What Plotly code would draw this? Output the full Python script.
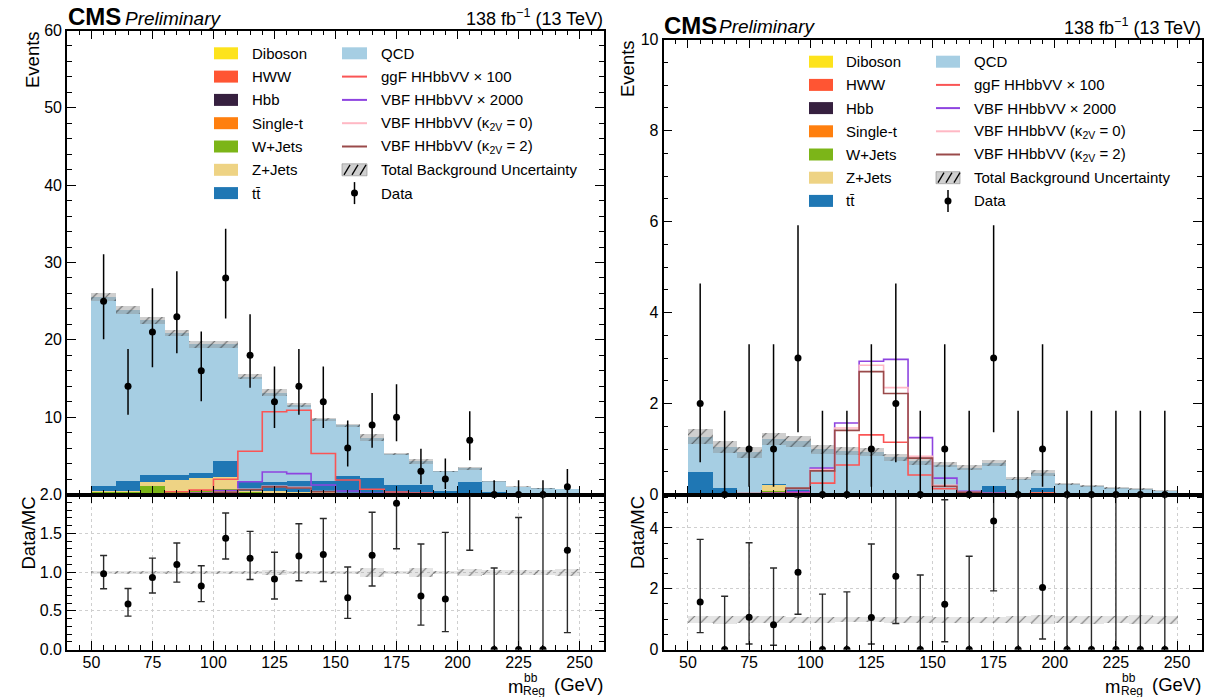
import plotly.graph_objects as go

W, H = 1216, 697
FONT = "Liberation Sans"

# ---------------- data ----------------
edges = [50, 60, 70, 80, 90, 100, 110, 120, 130, 140, 150, 160, 170, 180, 190, 200, 210, 220, 230, 240, 250]
centers = [55, 65, 75, 85, 95, 105, 115, 125, 135, 145, 155, 165, 175, 185, 195, 205, 215, 225, 235, 245]

process_names = ["Diboson", "HWW", "Hbb", "Single-t", "W+Jets", "Z+Jets", "tt\u0304", "QCD"]
process_colors = ["#fde31c", "#ff5533", "#36203f", "#ff7f0e", "#7cb518", "#eed384", "#1f77b4", "#a6cee3"]

signal_names = ["ggF HHbbVV \u00d7 100", "VBF HHbbVV \u00d7 2000",
                "VBF HHbbVV (\u03ba<sub>2V</sub> = 0)", "VBF HHbbVV (\u03ba<sub>2V</sub> = 2)"]
signal_colors = ["#fa5555", "#8e44e0", "#ffb8c4", "#9a4a4a"]

# Left panel
diboson_L = [0.03, 0.03, 0.04, 0.04, 0.04, 0.05, 0.06, 0.05, 0.04, 0.03, 0.02, 0.02, 0.01, 0.01, 0.01, 0.01, 0.0, 0.0, 0.0, 0.0]
hww_L = [0.0, 0.0, 0.01, 0.01, 0.02, 0.03, 0.04, 0.04, 0.03, 0.02, 0.01, 0.01, 0.01, 0.0, 0.0, 0.0, 0.0, 0.0, 0.0, 0.0]
hbb_L = [0.0, 0.0, 0.0, 0.01, 0.02, 0.03, 0.05, 0.06, 0.04, 0.02, 0.01, 0.0, 0.0, 0.0, 0.0, 0.0, 0.0, 0.0, 0.0, 0.0]
singlet_L = [0.05, 0.06, 0.08, 0.08, 0.1, 0.12, 0.1, 0.08, 0.08, 0.06, 0.05, 0.05, 0.03, 0.03, 0.02, 0.02, 0.01, 0.01, 0.0, 0.0]
wjets_L = [0.35, 0.34, 1.03, 0.42, 0.47, 0.59, 0.10, 0.07, 0.06, 0.04, 0.03, 0.03, 0.02, 0.02, 0.02, 0.02, 0.01, 0.0, 0.01, 0.01]
zjets_L = [0.13, 0.13, 0.52, 1.42, 1.5, 1.55, 0.2, 0.2, 0.2, 0.18, 0.13, 0.09, 0.05, 0.04, 0.03, 0.05, 0.01, 0.01, 0.01, 0.01]
tt_L = [0.64, 1.29, 0.95, 0.56, 0.65, 2.03, 1.30, 1.16, 1.42, 1.44, 2.25, 1.98, 1.11, 1.13, 0.50, 1.56, 0.34, 0.13, 0.08, 0.06]
qcd_L = [24.4, 22.05, 19.97, 18.46, 16.7, 15.1, 13.45, 11.54, 9.73, 8.01, 6.5, 5.22, 4.07, 3.12, 2.49, 1.79, 1.38, 0.93, 0.76, 0.70]
unc_L = [0.5, 0.5, 0.45, 0.4, 0.43, 0.43, 0.35, 0.45, 0.27, 0.22, 0.2, 0.43, 0.12, 0.28, 0.05, 0.17, 0.05, 0.04, 0.03, 0.04]

ggf_L = [0.05, 0.05, 0.08, 0.35, 0.56, 1.98, 5.6, 10.7, 10.9, 5.3, 1.87, 0.67, 0.32, 0.2, 0.1, 0.08, 0.05, 0.03, 0.02, 0.02]
vbf_L = [0.02, 0.03, 0.05, 0.1, 0.2, 0.5, 1.64, 2.9, 2.7, 1.23, 0.45, 0.15, 0.08, 0.05, 0.03, 0.02, 0.01, 0.01, 0.01, 0.01]
k2v0_L = [0.01, 0.01, 0.02, 0.05, 0.12, 0.3, 0.68, 1.05, 0.92, 0.38, 0.12, 0.04, 0.02, 0.01, 0.01, 0.01, 0.0, 0.0, 0.0, 0.0]
k2v2_L = [0.01, 0.01, 0.02, 0.05, 0.11, 0.28, 0.62, 0.98, 0.85, 0.35, 0.1, 0.04, 0.02, 0.01, 0.01, 0.01, 0.0, 0.0, 0.0, 0.0]

data_L = [25, 14, 21, 23, 16, 28, 18, 12, 14, 12, 6, 9, 10, 3, 2, 7, 0, 0, 0, 1]
data_lo_L = [4.94, 3.70, 4.53, 4.74, 3.95, 5.23, 4.19, 3.41, 3.70, 3.41, 2.38, 2.94, 3.11, 1.63, 1.29, 2.58, 0.0, 0.0, 0.0, 0.83]
data_hi_L = [6.07, 4.83, 5.66, 5.87, 5.08, 6.35, 5.32, 4.56, 4.83, 4.56, 3.58, 4.11, 4.27, 2.92, 2.64, 3.77, 1.84, 1.84, 1.84, 2.30]

# Right panel
diboson_R = [0.01, 0.0, 0.0, 0.01, 0.0, 0.0, 0.0, 0.0, 0.0, 0.0, 0.0, 0.0, 0.0, 0.0, 0.0, 0.0, 0.0, 0.0, 0.0, 0.0]
hww_R = [0.0, 0.0, 0.01, 0.0, 0.04, 0.0, 0.0, 0.0, 0.0, 0.0, 0.0, 0.0, 0.0, 0.0, 0.01, 0.0, 0.0, 0.0, 0.0, 0.0]
hbb_R = [0.0, 0.0, 0.0, 0.02, 0.01, 0.0, 0.0, 0.0, 0.0, 0.0, 0.01, 0.0, 0.01, 0.0, 0.0, 0.0, 0.0, 0.0, 0.0, 0.0]
singlet_R = [0.0, 0.0, 0.02, 0.01, 0.01, 0.0, 0.0, 0.0, 0.0, 0.0, 0.0, 0.0, 0.0, 0.0, 0.02, 0.0, 0.0, 0.0, 0.0, 0.0]
wjets_R = [0.0, 0.0, 0.0, 0.05, 0.0, 0.0, 0.0, 0.03, 0.0, 0.0, 0.0, 0.0, 0.0, 0.0, 0.0, 0.0, 0.0, 0.0, 0.0, 0.0]
zjets_R = [0.04, 0.0, 0.0, 0.13, 0.0, 0.0, 0.0, 0.0, 0.0, 0.0, 0.0, 0.0, 0.0, 0.0, 0.03, 0.0, 0.0, 0.0, 0.0, 0.0]
tt_R = [0.45, 0.15, 0.0, 0.02, 0.09, 0.01, 0.01, 0.0, 0.0, 0.0, 0.0, 0.0, 0.19, 0.0, 0.09, 0.0, 0.0, 0.0, 0.0, 0.0]
qcd_R = [0.78, 0.90, 0.91, 0.99, 1.03, 1.0, 0.96, 0.92, 0.83, 0.75, 0.66, 0.6, 0.51, 0.36, 0.34, 0.24, 0.19, 0.16, 0.13, 0.09]
unc_R = [0.16, 0.135, 0.12, 0.13, 0.12, 0.1, 0.09, 0.09, 0.08, 0.09, 0.065, 0.06, 0.07, 0.04, 0.07, 0.03, 0.025, 0.02, 0.02, 0.012]

ggf_R = [0.01, 0.01, 0.02, 0.03, 0.05, 0.25, 0.65, 1.31, 1.15, 0.43, 0.13, 0.04, 0.02, 0.01, 0.03, 0.01, 0.01, 0.0, 0.0, 0.0]
vbf_R = [0.0, 0.0, 0.01, 0.03, 0.06, 0.58, 1.57, 2.93, 2.97, 1.25, 0.36, 0.07, 0.03, 0.01, 0.01, 0.0, 0.0, 0.0, 0.0, 0.0]
k2v0_R = [0.0, 0.0, 0.01, 0.02, 0.13, 0.55, 1.46, 2.84, 2.35, 0.84, 0.2, 0.05, 0.02, 0.01, 0.0, 0.0, 0.0, 0.0, 0.0, 0.0]
k2v2_R = [0.0, 0.0, 0.01, 0.02, 0.14, 0.52, 1.41, 2.7, 2.22, 0.8, 0.18, 0.05, 0.02, 0.01, 0.0, 0.0, 0.0, 0.0, 0.0, 0.0]

data_R = [2, 0, 1, 1, 3, 0, 0, 1, 2, 0, 1, 0, 3, 0, 1, 0, 0, 0, 0, 0]
data_lo_R = [1.29, 0.0, 0.83, 0.83, 1.63, 0.0, 0.0, 0.83, 1.29, 0.0, 0.83, 0.0, 1.63, 0.0, 0.83, 0.0, 0.0, 0.0, 0.0, 0.0]
data_hi_R = [2.64, 1.84, 2.30, 2.30, 2.92, 1.84, 1.84, 2.30, 2.64, 1.84, 2.30, 1.84, 2.92, 1.84, 2.30, 1.84, 1.84, 1.84, 1.84, 1.84]

# ---------------- layout geometry (pixels) ----------------
Y_SPLIT = 494.5
Y_BOT = 649.5
PANELS = {
    "L": dict(x0=67.0, x1=604.0, ytop=30.5, ax=("x", "y", "x2", "y2")),
    "R": dict(x0=663.5, x1=1201.5, ytop=39.5, ax=("x3", "y3", "x4", "y4")),
}


def px(x):
    return x / W


def py(y):
    return 1 - y / H


fig = go.Figure()


def add_panel(key, comps, unc, sigs, data, lo, hi):
    xm, ym, xr, yr = PANELS[key]["ax"]
    n = len(centers)
    cums = []
    run = [0.0] * n
    for comp in comps:
        run = [run[i] + comp[i] for i in range(n)]
        cums.append(list(run))
    total = cums[-1]
    for k in range(len(comps) - 1, -1, -1):
        fig.add_trace(go.Bar(x=centers, y=cums[k], width=10, xaxis=xm, yaxis=ym,
                             marker=dict(color=process_colors[k], line=dict(width=0)),
                             showlegend=False, hoverinfo="skip"))
    hatch = dict(shape="/", fgcolor="black", size=9, solidity=0.12, fillmode="overlay")
    fig.add_trace(go.Bar(x=centers, y=[2 * u for u in unc], base=[t - u for t, u in zip(total, unc)],
                         width=10, xaxis=xm, yaxis=ym,
                         marker=dict(color="rgba(140,140,140,0.42)", line=dict(width=0), pattern=hatch),
                         showlegend=False, hoverinfo="skip"))
    for s, col in zip(sigs, signal_colors):
        fig.add_trace(go.Scatter(x=edges, y=list(s) + [s[-1]], mode="lines", xaxis=xm, yaxis=ym,
                                 line=dict(color=col, width=1.6, shape="hv"),
                                 showlegend=False, hoverinfo="skip"))
    fig.add_trace(go.Scatter(x=centers, y=data, mode="markers", xaxis=xm, yaxis=ym,
                             marker=dict(color="black", size=7),
                             error_y=dict(type="data", symmetric=False, array=hi, arrayminus=lo,
                                          color="black", thickness=1.5, width=0),
                             cliponaxis=False, showlegend=False, hoverinfo="skip"))
    rel = [u / t for u, t in zip(unc, total)]
    fig.add_trace(go.Bar(x=centers, y=[2 * r for r in rel], base=[1 - r for r in rel], width=10,
                         xaxis=xr, yaxis=yr,
                         marker=dict(color="rgba(150,150,150,0.25)", line=dict(width=0), pattern=hatch),
                         showlegend=False, hoverinfo="skip"))
    ratio = [d / t for d, t in zip(data, total)]
    fig.add_trace(go.Scatter(x=centers, y=ratio, mode="markers", xaxis=xr, yaxis=yr,
                             marker=dict(color="black", size=7),
                             error_y=dict(type="data", symmetric=False,
                                          array=[h / t for h, t in zip(hi, total)],
                                          arrayminus=[l / t for l, t in zip(lo, total)],
                                          color="#2a2a2a", thickness=1.4, width=3.5),
                             showlegend=False, hoverinfo="skip"))


add_panel("L", [diboson_L, hww_L, hbb_L, singlet_L, wjets_L, zjets_L, tt_L, qcd_L], unc_L,
          [ggf_L, vbf_L, k2v0_L, k2v2_L], data_L, data_lo_L, data_hi_L)
add_panel("R", [diboson_R, hww_R, hbb_R, singlet_R, wjets_R, zjets_R, tt_R, qcd_R], unc_R,
          [ggf_R, vbf_R, k2v0_R, k2v2_R], data_R, data_lo_R, data_hi_R)

# ---------------- axes ----------------
tickfont = dict(family=FONT, size=16, color="black")


def axis_common():
    return dict(showline=True, linecolor="black", linewidth=1.6, mirror="ticks",
                ticks="inside", ticklen=9, tickwidth=1.2, tickcolor="black",
                zeroline=False, tickfont=tickfont, layer="above traces", automargin=False)


def minor(dt):
    return dict(ticks="inside", ticklen=5, tickwidth=1, tickcolor="black", dtick=dt, showgrid=False)


grid = dict(showgrid=True, gridcolor="#cfcfcf", griddash="dot", gridwidth=1)

axes = {}
for key, yr_main, ytickvals_main, ymin_dt, yr_rat, ydt_rat, ymin_rat, fmt in [
    ("L", [0, 60], [10, 20, 30, 40, 50, 60], 2, [0, 2.0], 0.5, 0.1, ".1f"),
    ("R", [0, 10], [0, 2, 4, 6, 8, 10], 0.5, [0, 5.1], 2, 0.5, "d"),
]:
    p = PANELS[key]
    xm, ym, xr, yr = p["ax"]
    xdom = [px(p["x0"]), px(p["x1"])]
    axes[xm.replace("x", "xaxis")] = dict(axis_common(), domain=xdom, range=[40, 260], anchor=ym,
                                          tick0=50, dtick=25, minor=minor(5), showticklabels=False,
                                          showgrid=False, matches=xr)
    axes[ym.replace("y", "yaxis")] = dict(axis_common(), domain=[py(Y_SPLIT), py(p["ytop"])], range=yr_main,
                                          anchor=xm, tickmode="array", tickvals=ytickvals_main,
                                          minor=minor(ymin_dt), showgrid=False)
    axes[xr.replace("x", "xaxis")] = dict(axis_common(), domain=xdom, range=[40, 260], anchor=yr,
                                          tick0=50, dtick=25, minor=minor(5), ticklabelstandoff=-3, **grid)
    axes[yr.replace("y", "yaxis")] = dict(axis_common(), domain=[py(Y_BOT), py(Y_SPLIT)], range=yr_rat,
                                          anchor=xr, tick0=0, dtick=ydt_rat, minor=minor(ymin_rat),
                                          tickformat=fmt, **grid)

fig.update_layout(**axes)

# ---------------- annotations / legend ----------------
ann = []
shapes = []


def text(x, y, s, size=15, xanchor="left", yanchor="middle", bold=False, italic=False, angle=0):
    f = dict(family=FONT, size=size, color="black")
    if bold:
        s = "<b>" + s + "</b>"
    if italic:
        s = "<i>" + s + "</i>"
    ann.append(dict(x=px(x), y=py(y), xref="paper", yref="paper", text=s, showarrow=False,
                    xanchor=xanchor, yanchor=yanchor, font=f, textangle=angle, borderpad=0))


def rect(x0, x1, y0, y1, color):
    shapes.append(dict(type="rect", xref="paper", yref="paper", x0=px(x0), x1=px(x1), y0=py(y1), y1=py(y0),
                       fillcolor=color, line=dict(width=0)))


def hline(x0, x1, y, color, width=2):
    shapes.append(dict(type="line", xref="paper", yref="paper", x0=px(x0), x1=px(x1), y0=py(y), y1=py(y),
                       line=dict(color=color, width=width)))


def seg(x0, y0, x1, y1, color="black", width=1.3):
    shapes.append(dict(type="line", xref="paper", yref="paper", x0=px(x0), x1=px(x1), y0=py(y0), y1=py(y1),
                       line=dict(color=color, width=width)))


legend_geo = {
    "L": dict(c1=(214, 238, 251), c2=(342, 367, 380), y0=53.3, dy=23.3),
    "R": dict(c1=(809, 833, 845), c2=(936, 960, 973), y0=61.7, dy=23.2),
}

for key, g in legend_geo.items():
    a0, a1, at = g["c1"]
    for i in range(7):
        y = g["y0"] + i * g["dy"]
        rect(a0, a1, y - 6, y + 6, process_colors[i])
        text(at, y, process_names[i])
    b0, b1, bt = g["c2"]
    rows2 = [("rect", process_colors[7], "QCD")] + \
            [("line", c, nme) for c, nme in zip(signal_colors, signal_names)] + \
            [("hatch", None, "Total Background Uncertainty"), ("data", None, "Data")]
    for i, (kind, col, lab) in enumerate(rows2):
        y = g["y0"] + i * g["dy"]
        if kind == "rect":
            rect(b0, b1, y - 6, y + 6, col)
        elif kind == "line":
            hline(b0, b1, y, col, 2)
        elif kind == "hatch":
            shapes.append(dict(type="rect", xref="paper", yref="paper", x0=px(b0), x1=px(b1),
                               y0=py(y + 6), y1=py(y - 6), fillcolor="rgba(140,140,140,0.42)",
                               line=dict(width=0.6, color="#888888")))
            for j in range(3):
                xa = b0 + 2 + j * 8
                seg(xa, y + 5, xa + 6, y - 5)
        else:
            xc = (b0 + b1) / 2
            seg(xc, y - 11, xc, y + 11, "black", 1.5)
            shapes.append(dict(type="circle", xref="paper", yref="paper", x0=px(xc - 3.5), x1=px(xc + 3.5),
                               y0=py(y + 3.5), y1=py(y - 3.5), fillcolor="black", line=dict(width=0)))
        text(bt, y, lab)

# headers
for key, cy, cms_x, pre_x in [("L", 16.5, 67, 124), ("R", 25.5, 663, 718)]:
    p = PANELS[key]
    text(cms_x, cy, "CMS", size=24, bold=True)
    text(pre_x, cy + 1.5, "Preliminary", size=19, italic=True)
    text(p["x1"], cy + 1, "138 fb<sup>\u22121</sup> (13 TeV)", size=18, xanchor="right")

# axis titles
for key, ex, dx in [("L", 33, 27.5), ("R", 628, 637)]:
    p = PANELS[key]
    text(ex, p["ytop"], "Events", size=18.5, xanchor="center", yanchor="top", angle=-90)
    text(dx, Y_SPLIT + 1, "Data/MC", size=18.5, xanchor="center", yanchor="top", angle=-90)
    r = p["x1"]
    text(r, 684, "(GeV)", size=18.5, xanchor="right")
    text(r - 89, 686, "m", size=18.5, xanchor="center")
    text(r - 81, 677.5, "bb", size=12, xanchor="left")
    text(r - 82, 690.5, "Reg", size=12, xanchor="left")

fig.update_layout(annotations=ann, shapes=shapes)

fig.update_layout(width=W, height=H, margin=dict(l=0, r=0, t=0, b=0, pad=0, autoexpand=False),
                  paper_bgcolor="white", plot_bgcolor="white",
                  barmode="overlay", bargap=0, showlegend=False,
                  font=dict(family=FONT, color="black"))

fig.write_html("out.html")
